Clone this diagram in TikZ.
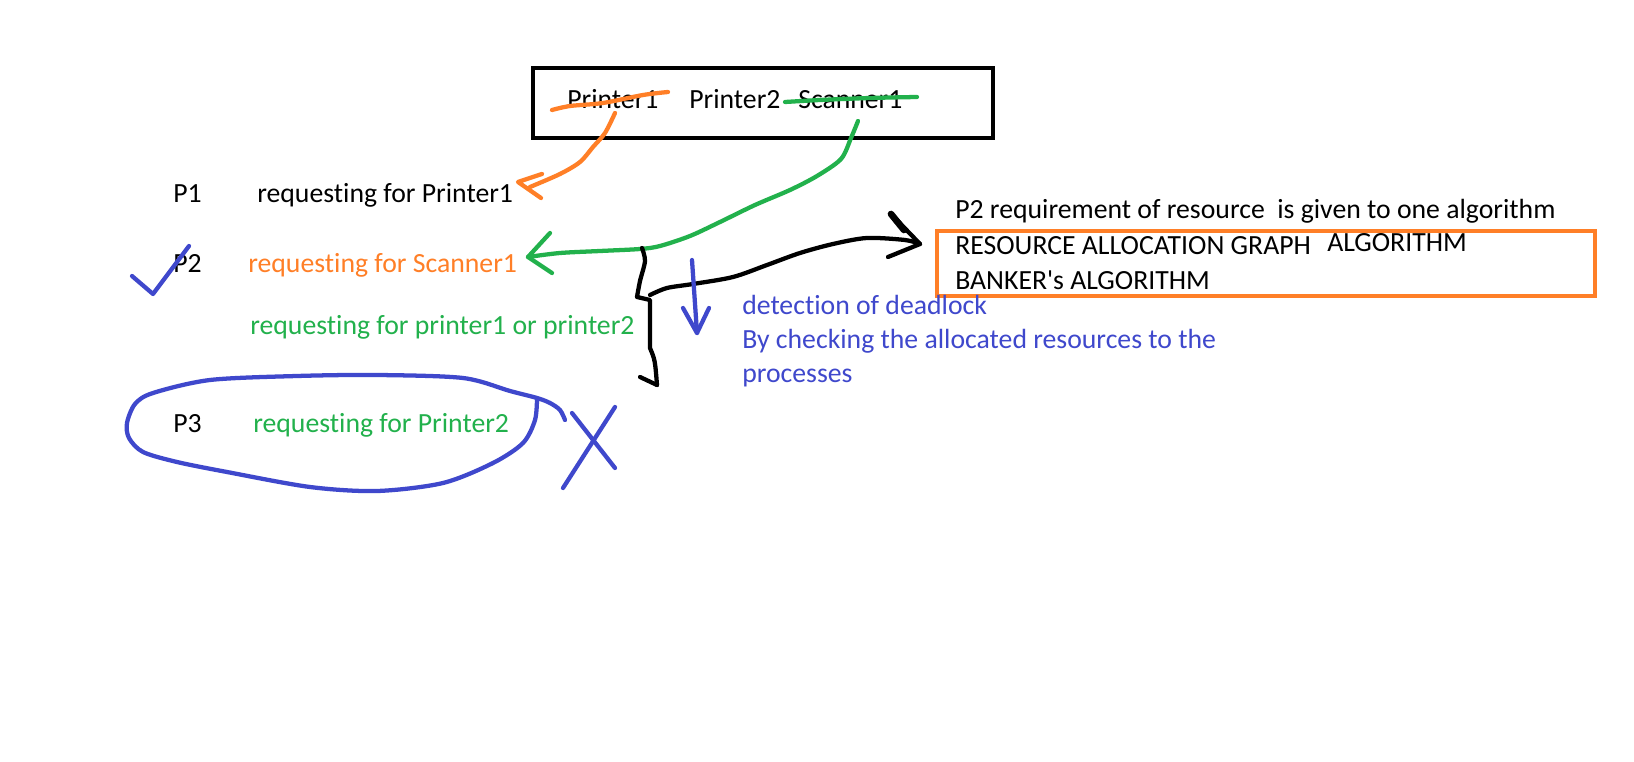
\documentclass[tikz,border=0pt]{standalone}
\usepackage{fontspec}
\setmainfont{Carlito}[Ligatures={TeXOff,CommonOff}]
\usepackage{tikz}

\definecolor{pOrange}{HTML}{FF7F27}
\definecolor{pGreen}{HTML}{22B14C}
\definecolor{pBlue}{HTML}{3F48CC}

\begin{document}
\begin{tikzpicture}[x=0.75pt,y=-0.75pt,
  txt/.style={anchor=base west,inner sep=0pt,font=\fontsize{20.8}{25}\selectfont},
  hand/.style={line width=3.2pt,line cap=round,line join=round}]

\fill[white] (0,0) rectangle (1634,762);
\useasboundingbox (0,0) rectangle (1634,762);

% resources
\draw[line width=3pt] (533,68) rectangle (993,138);
\node[txt] (pr1) at (567,109) {Printer1};
\node[txt] (pr2) at (689,109) {Printer2};
\node[txt] (sc1) at (798,109) {Scanner1};
\draw[hand,pOrange] plot[smooth] coordinates {(552,110) (570,106) (603,103) (643,95) (668,92)};
\draw[hand,pGreen] plot[smooth] coordinates {(785,102) (820,100) (870,98) (917,97)};

% processes
\node[txt] (p1) at (173,203) {P1};
\node[txt] (req1) at (257,203) {requesting for Printer1};
\node[txt] (p2) at (173,273) {P2};
\node[txt,text=pOrange] (req2) at (248,273) {requesting for Scanner1};
\node[txt,text=pGreen] (req3) at (250,335) {requesting for printer1 or printer2};
\node[txt] (p3) at (173,433) {P3};
\node[txt,text=pGreen] (req4) at (253,433) {requesting for Printer2};

% algorithms
\node[txt] (note) at (955,219) {P2 requirement of resource\ \ is given to one algorithm};
\node[txt] (rag) at (955,255) {RESOURCE ALLOCATION GRAPH};
\node[txt] (alg) at (1327,252) {ALGORITHM};
\node[txt] (bank) at (955,290) {BANKER's ALGORITHM};
\draw[pOrange,line width=3pt] (937,231) rectangle (1595,296);

% detection
\node[txt,text=pBlue] (det1) at (742,315) {detection of deadlock};
\node[txt,text=pBlue] (det2) at (742,349) {By checking the allocated resources to the};
\node[txt,text=pBlue] (det3) at (742,383) {processes};

\coordinate (oS) at (615,113);
\coordinate (oT) at (518,182);
\coordinate (gS) at (858,121);
\coordinate (gT) at (528,257);
\coordinate (bS) at (650,295);
\coordinate (bT) at (920,244);
\coordinate (dS) at (692,260);
\coordinate (dT) at (697,333);

% Printer1 -> P1
\draw[hand,pOrange] plot[smooth] coordinates {(oS) (605,133) (593,147) (580,162) (560,174) (530,187)};
\draw[hand,pOrange] (542,174) -- (oT) -- (541,198);

% Scanner1 -> P2
\draw[hand,pGreen] plot[smooth] coordinates {(gS) (851,138) (841,159) (817,176) (790,190)
  (755,205) (720,222) (690,236) (660,246) (640,249) (600,251) (560,253) (gT)};
\draw[hand,pGreen] (550,233) -- (gT) -- (552,273);

% brace and arrow to algorithm
\draw[hand] plot[smooth] coordinates {(642,248) (645,261) (640,281) (637,297)} -- (650,300) -- (650,348)
  .. controls (655,360) .. (657,385);
\draw[hand] (640,377) -- (657,385);
\draw[hand] plot[smooth] coordinates {(bS) (667,288) (693,284) (733,277) (767,265) (800,253)
  (833,244) (867,238) (905,240) (bT)};
\draw[hand] (893,216) -- (bT) -- (888,257);
\draw[line width=5pt,line cap=round] (891,214) -- (904,230);

% deadlock detection
\draw[hand,pBlue] (dS) -- (dT);
\draw[hand,pBlue] (683,308) -- (dT) -- (709,308);

% marks
\draw[hand,pBlue] (132,276) -- (153,294) -- (189,246);
\draw[hand,pBlue] plot[smooth] coordinates {(565,420) (560,410) (550,403) (537,398) (510,391)
  (463,378) (377,375) (297,376) (210,380) (153,393) (135,404) (127,423) (129,438) (143,452)
  (177,462) (227,472) (310,487) (377,491) (443,483) (493,463) (523,443) (535,420) (537,398)};
\draw[hand,pBlue] (572,413) -- (615,468);
\draw[hand,pBlue] (615,407) -- (563,488);

\end{tikzpicture}
\end{document}
